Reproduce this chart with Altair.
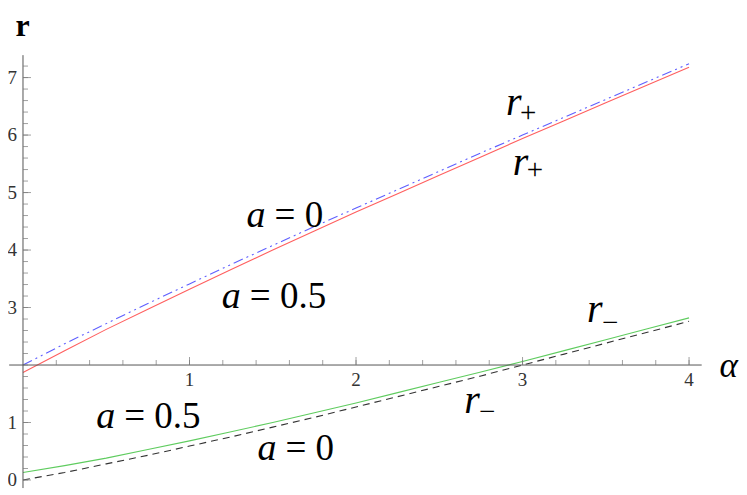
import altair as alt
import pandas as pd

# ---- data ----
alpha = [0, 0.25, 0.5, 0.75, 1, 1.25, 1.5, 1.75, 2, 2.25, 2.5, 2.75, 3, 3.25, 3.5, 3.75, 4]
r_plus_a0 = [2.00, 2.37, 2.72, 3.07, 3.41, 3.75, 4.08, 4.41, 4.73, 5.05, 5.37, 5.69, 6.00, 6.31, 6.62, 6.93, 7.24]
r_minus_a0 = [0.00, 0.13, 0.28, 0.43, 0.59, 0.75, 0.92, 1.09, 1.27, 1.45, 1.63, 1.81, 2.00, 2.19, 2.38, 2.57, 2.76]
r_plus_a05 = [1.87, 2.25, 2.62, 2.97, 3.32, 3.66, 4.00, 4.33, 4.66, 4.98, 5.30, 5.62, 5.94, 6.25, 6.56, 6.87, 7.18]
r_minus_a05 = [0.13, 0.25, 0.38, 0.53, 0.68, 0.84, 1.00, 1.17, 1.34, 1.52, 1.70, 1.88, 2.06, 2.25, 2.44, 2.63, 2.82]

# tick values / labels
x_major_ticks = [1, 2, 3, 4]
x_major_labels = ["1", "2", "3", "4"]
y_major_ticks = [0, 1, 3, 4, 5, 6, 7]
y_major_labels = ["0", "1", "3", "4", "5", "6", "7"]
x_minor_ticks = [round(i * 0.2, 1) for i in range(1, 21)]
y_minor_ticks = [round(i * 0.2, 1) for i in range(0, 37)]
x_axis_at = 2      # the horizontal axis crosses at r = 2
y_axis_at = 0      # the vertical axis crosses at alpha = 0

# axis line extents (data units)
x_axis_extent = [-0.083, 4.076]
y_axis_extent = [-0.14, 7.39]

# annotations "a = ..."
a_lab_alpha = [1.343, 1.194, 0.440, 1.408]
a_lab_r = [4.400, 2.991, 0.904, 0.348]
a_lab_rest = ["= 0", "= 0.5", "= 0.5", "= 0"]

# annotations r_+ / r_-
r_lab_alpha = [2.900, 2.941, 3.387, 2.650]
r_lab_r = [6.348, 5.304, 2.748, 1.165]
sub_alpha = [3.034, 3.075, 3.527, 2.787]
sub_r = [6.391, 5.391, 2.739, 1.183]
sub_text = ["+", "+", "\u2212", "\u2212"]

# axis titles
title_r = {"alpha": -0.045, "r": 7.72, "text": "r"}
title_alpha = {"alpha": 4.183, "r": 1.79, "text": "\u03b1"}

W, H = 731, 486
x_scale = alt.Scale(domain=[-0.09, 4.3], nice=False, zero=False)
y_scale = alt.Scale(domain=[-0.2435, 8.21], nice=False, zero=False)

FONT = "Liberation Serif"
TICK = "#777777"
AXIS = "#555555"


def X(field):
    return alt.X(field, scale=x_scale, axis=None)


def Y(field):
    return alt.Y(field, scale=y_scale, axis=None)


def line_layer(vals, color, dash):
    props = dict(color=color, strokeWidth=1.1)
    if dash:
        props["strokeDash"] = dash
    return alt.Chart(pd.DataFrame({"alpha": alpha, "r": vals})).mark_line(**props).encode(
        x=X("alpha:Q"), y=Y("r:Q")
    )


lines = [
    line_layer(r_plus_a05, "#ff5f5f", None),
    line_layer(r_plus_a0, "#5f5fff", [10, 4, 2, 4, 2, 4]),
    line_layer(r_minus_a05, "#5fcc5f", None),
    line_layer(r_minus_a0, "#333333", [7, 5]),
]

# axis lines
x_axis_line = alt.Chart(pd.DataFrame({"x0": [x_axis_extent[0]], "x1": [x_axis_extent[1]], "y": [x_axis_at]})).mark_rule(
    color=AXIS, strokeWidth=1
).encode(x=X("x0:Q"), x2="x1:Q", y=Y("y:Q"))
y_axis_line = alt.Chart(pd.DataFrame({"x": [y_axis_at], "y0": [y_axis_extent[0]], "y1": [y_axis_extent[1]]})).mark_rule(
    color=AXIS, strokeWidth=1
).encode(x=X("x:Q"), y=Y("y0:Q"), y2="y1:Q")

# ticks (pointing into the plot, as in the reference)
x_minor = alt.Chart(pd.DataFrame({"alpha": x_minor_ticks, "r": [x_axis_at] * len(x_minor_ticks)})).mark_tick(
    orient="vertical", size=5, thickness=1, color=TICK, yOffset=-2.5
).encode(x=X("alpha:Q"), y=Y("r:Q"))
y_minor = alt.Chart(pd.DataFrame({"alpha": [y_axis_at] * len(y_minor_ticks), "r": y_minor_ticks})).mark_tick(
    orient="horizontal", size=5, thickness=1, color=TICK, xOffset=2.5
).encode(x=X("alpha:Q"), y=Y("r:Q"))
x_major = alt.Chart(pd.DataFrame({"alpha": x_major_ticks, "r": [x_axis_at] * len(x_major_ticks)})).mark_tick(
    orient="vertical", size=8, thickness=1, color=TICK, yOffset=-4
).encode(x=X("alpha:Q"), y=Y("r:Q"))
y_major = alt.Chart(pd.DataFrame({"alpha": [y_axis_at] * len(y_major_ticks), "r": y_major_ticks})).mark_tick(
    orient="horizontal", size=8, thickness=1, color=TICK, xOffset=4
).encode(x=X("alpha:Q"), y=Y("r:Q"))

# tick labels
x_lab = alt.Chart(pd.DataFrame({"alpha": x_major_ticks, "r": [x_axis_at] * 4, "t": x_major_labels})).mark_text(
    font=FONT, fontSize=19, color="#333333", align="center", baseline="top", dy=6
).encode(x=X("alpha:Q"), y=Y("r:Q"), text="t:N")
y_lab = alt.Chart(pd.DataFrame({"alpha": [y_axis_at] * 7, "r": y_major_ticks, "t": y_major_labels})).mark_text(
    font=FONT, fontSize=19, color="#333333", align="right", baseline="middle", dx=-6
).encode(x=X("alpha:Q"), y=Y("r:Q"), text="t:N")

a_df = pd.DataFrame({"alpha": a_lab_alpha, "r": a_lab_r, "a": ["a"] * 4, "rest": a_lab_rest})
a_italic = alt.Chart(a_df).mark_text(
    font=FONT, fontSize=38, fontStyle="italic", align="left", baseline="alphabetic", color="black"
).encode(x=X("alpha:Q"), y=Y("r:Q"), text="a:N")
a_rest = alt.Chart(a_df).mark_text(
    font=FONT, fontSize=37, align="left", baseline="alphabetic", color="black", dx=28
).encode(x=X("alpha:Q"), y=Y("r:Q"), text="rest:N")

r_df = pd.DataFrame({"alpha": r_lab_alpha, "r": r_lab_r, "t": ["r"] * 4})
r_italic = alt.Chart(r_df).mark_text(
    font=FONT, fontSize=40, fontStyle="italic", align="left", baseline="alphabetic", color="black"
).encode(x=X("alpha:Q"), y=Y("r:Q"), text="t:N")
s_df = pd.DataFrame({"alpha": sub_alpha, "r": sub_r, "t": sub_text})
r_sub = alt.Chart(s_df).mark_text(
    font=FONT, fontSize=29, align="center", baseline="middle", color="black"
).encode(x=X("alpha:Q"), y=Y("r:Q"), text="t:N")

t_r = alt.Chart(pd.DataFrame([title_r])).mark_text(
    font=FONT, fontSize=32, fontWeight="bold", align="left", baseline="alphabetic", color="black"
).encode(x=X("alpha:Q"), y=Y("r:Q"), text="text:N")
t_a = alt.Chart(pd.DataFrame([title_alpha])).mark_text(
    font=FONT, fontSize=35, fontStyle="italic", align="left", baseline="alphabetic", color="black"
).encode(x=X("alpha:Q"), y=Y("r:Q"), text="text:N")

chart = alt.layer(
    *lines, x_axis_line, y_axis_line, x_minor, y_minor, x_major, y_major, x_lab, y_lab,
    a_italic, a_rest, r_italic, r_sub, t_r, t_a
).properties(
    width=W, height=H, autosize=alt.AutoSizeParams(type="none"), padding=0
).configure_view(stroke=None)

chart.save("out.html", embed_options={"renderer": "svg", "actions": False})
